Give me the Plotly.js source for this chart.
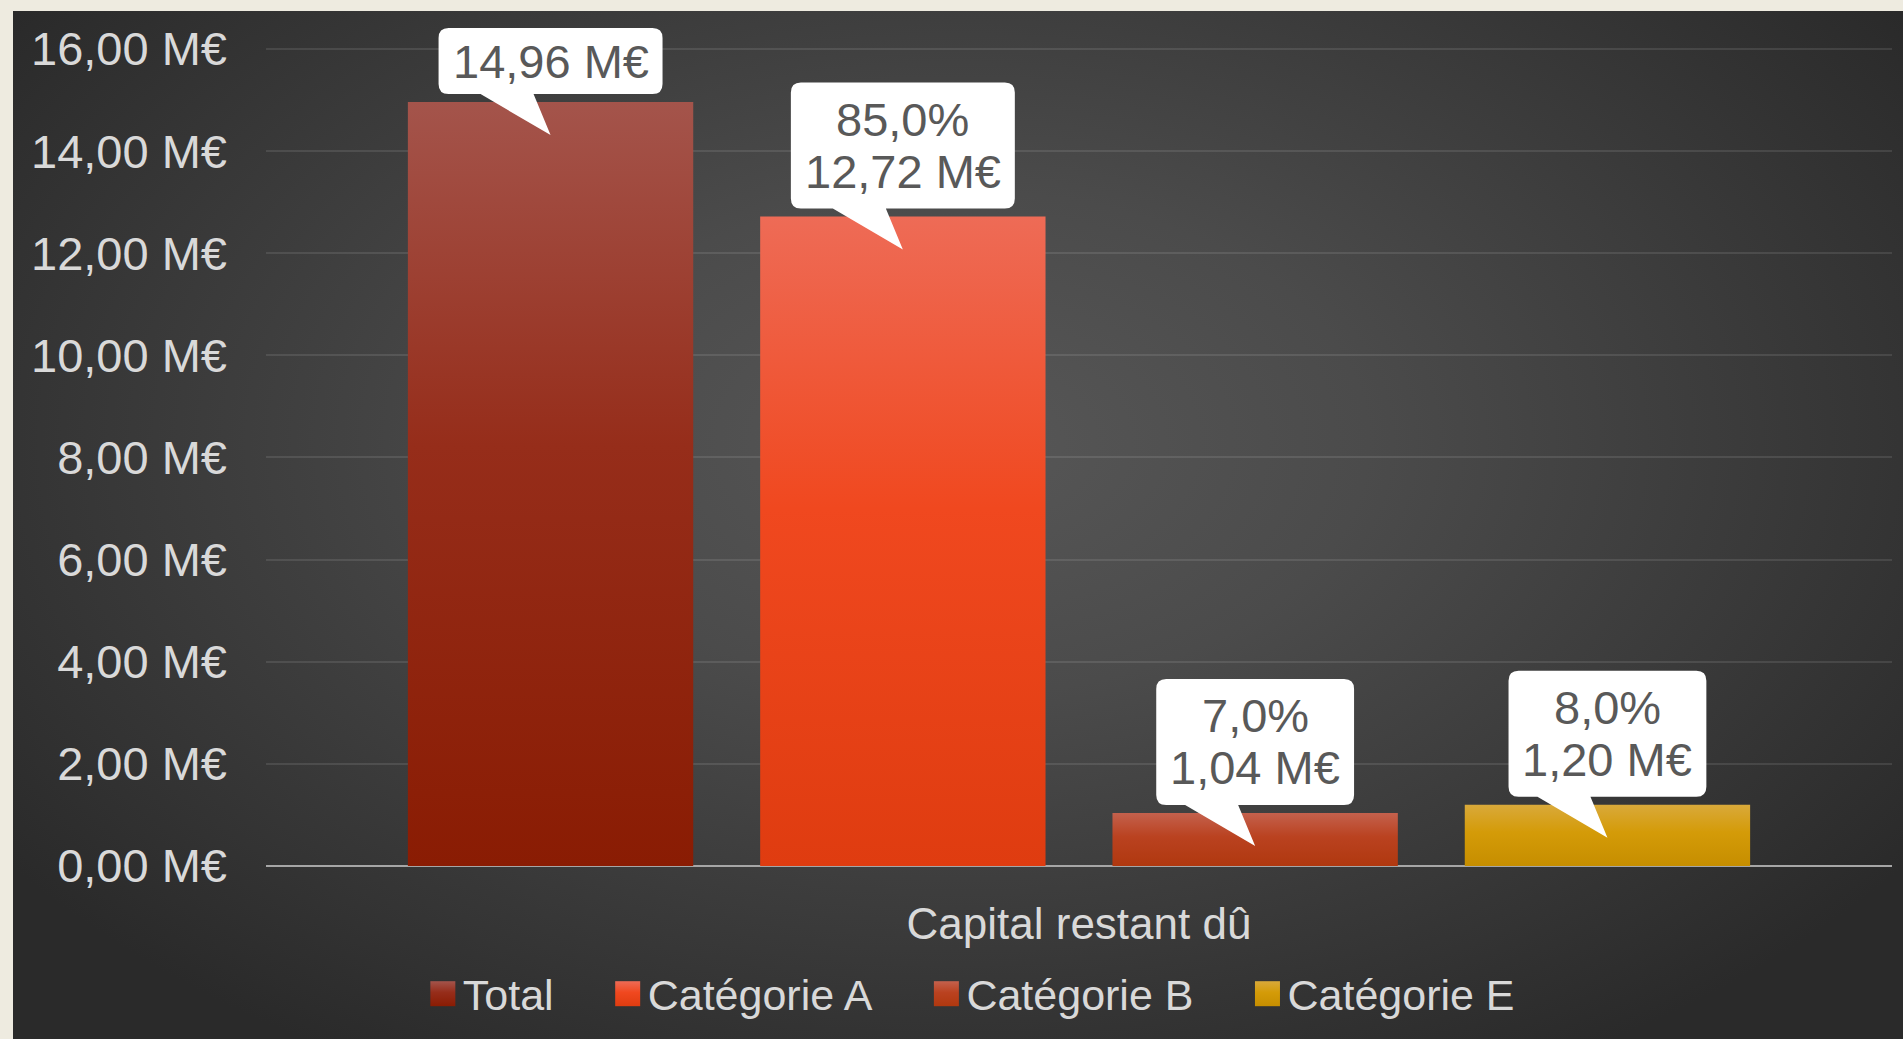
<!DOCTYPE html>
<html><head><meta charset="utf-8">
<script src="https://cdn.plot.ly/plotly-3.0.1.min.js"></script>
<style>
html,body{margin:0;padding:0;width:1903px;height:1039px;overflow:hidden;background:#EEEBE0;}
#panel{position:absolute;left:13px;top:11px;width:1890px;height:1028px;
 background:radial-gradient(ellipse 62% 70% at 50% 42%, #575757 0%, #4b4b4b 35%, #2a2a2a 100%);}
#chart{position:absolute;left:0;top:0;width:1903px;height:1039px;}
</style></head><body>
<div id="panel"></div><div id="chart"></div>
<script>
// ---- data ----
const categories = ['Total', 'Catégorie A', 'Catégorie B', 'Catégorie E'];
const values = [14.96, 12.72, 1.04, 1.20];       // M€
const shares = [null, 85.0, 7.0, 8.0];           // %
const yTicks = [0, 2, 4, 6, 8, 10, 12, 14, 16];
const xTitle = 'Capital restant dû';

// ---- styles ----
const gradTop = ['#A4544B', '#EE6B56', '#C4614D', '#D9A93A'];
const gradMid = ['#962D1A', '#F0481F', '#BA4220', '#D49B08'];
const gradBot = ['#8A1C03', '#DF3C10', '#B0380F', '#C68E00'];
const FONT = '"Liberation Sans", Arial, sans-serif';
const LBL = 47;

const fmtM = v => v.toFixed(2).replace('.', ',') + ' M€';
const fmtP = v => v.toFixed(1).replace('.', ',') + '%';

const traces = categories.map((c, i) => ({
  type: 'bar', name: c, x: [i], y: [values[i]], width: [0.81],
  marker: {color: gradMid[i], line: {width: 0}}, hoverinfo: 'skip'
}));

const ctx = document.createElement('canvas').getContext('2d');
ctx.font = LBL + 'px "Liberation Sans"';
const shapes = [], annotations = [];
categories.forEach((c, i) => {
  const lines = shares[i] == null ? [fmtM(values[i])] : [fmtP(shares[i]), fmtM(values[i])];
  const tw = Math.max(...lines.map(l => ctx.measureText(l).width));
  const n = lines.length;
  const w = tw + 28, h = 6 + 60 * n;
  const L = -w / 2, R = w / 2, B = 8, T = B + h, r = 10;
  const path = `M${L + r},${T} H${R - r} Q${R},${T} ${R},${T - r} V${B + r} Q${R},${B} ${R - r},${B} H-17 L0,-33 L-70,${B} H${L + r} Q${L},${B} ${L},${B + r} V${T - r} Q${L},${T} ${L + r},${T} Z`;
  shapes.push({type: 'path', xref: 'x', yref: 'y', xsizemode: 'pixel', ysizemode: 'pixel',
    xanchor: i, yanchor: values[i], path: path, fillcolor: '#FFFFFF', line: {width: 0}, layer: 'above'});
  const mid = B + h / 2, sp = 52;
  lines.forEach((ln, k) => {
    annotations.push({x: i, y: values[i], xref: 'x', yref: 'y', text: ln,
      showarrow: false, yanchor: 'middle', xanchor: 'center',
      yshift: mid + (sp / 2) * (n - 1) - sp * k, align: 'center',
      font: {family: FONT, size: LBL, color: '#595959'}});
  });
});

const layout = {
  width: 1903, height: 1039,
  paper_bgcolor: 'rgba(0,0,0,0)', plot_bgcolor: 'rgba(0,0,0,0)',
  margin: {l: 266, r: 11, t: 20, b: 171},
  separators: ', ',
  barmode: 'overlay',
  font: {family: FONT, color: '#D9D9D9'},
  xaxis: {range: [-0.8077, 3.8077], showticklabels: false, showgrid: false, zeroline: false,
    showline: false, ticks: '', fixedrange: true,
    title: {text: xTitle, font: {family: FONT, size: 44, color: '#D9D9D9'}, standoff: 42}},
  yaxis: {range: [0, 16.567], tickvals: yTicks, ticktext: yTicks.map(fmtM),
    tickfont: {family: FONT, size: LBL, color: '#D9D9D9'}, ticklabelstandoff: 38,
    showgrid: true, gridcolor: 'rgba(255,255,255,0.10)', gridwidth: 2,
    zeroline: true, zerolinecolor: '#A6A6A6', zerolinewidth: 2.5, showline: false, ticks: '',
    automargin: false, fixedrange: true},
  showlegend: true,
  legend: {orientation: 'h', x: 0.434, xanchor: 'center', y: -0.151, yanchor: 'middle',
    font: {family: FONT, size: 43, color: '#D9D9D9'}, bgcolor: 'rgba(0,0,0,0)', itemclick: false},
  shapes: shapes, annotations: annotations
};

Plotly.newPlot('chart', traces, layout, {displayModeBar: false, staticPlot: true}).then(gd => {
  const NS = 'http://www.w3.org/2000/svg';
  const svg = gd.querySelector('svg.main-svg');
  let defs = svg.querySelector('defs');
  if (!defs) { defs = document.createElementNS(NS, 'defs'); svg.insertBefore(defs, svg.firstChild); }
  categories.forEach((c, i) => {
    const g = document.createElementNS(NS, 'linearGradient');
    g.setAttribute('id', 'bargrad' + i);
    g.setAttribute('x1', '0'); g.setAttribute('y1', '0'); g.setAttribute('x2', '0'); g.setAttribute('y2', '1');
    [[0, gradTop[i]], [0.45, gradMid[i]], [1, gradBot[i]]].forEach(([o, col]) => {
      const s = document.createElementNS(NS, 'stop');
      s.setAttribute('offset', o); s.setAttribute('stop-color', col);
      g.appendChild(s);
    });
    defs.appendChild(g);
  });
  gd.querySelectorAll('.barlayer .trace').forEach((t, i) => {
    t.querySelectorAll('path').forEach(p => { p.style.fill = 'url(#bargrad' + i + ')'; });
  });
  const items = [...gd.querySelectorAll('.legend .traces')];
  items.forEach((t, i) => {
    t.querySelectorAll('.legendpoints path').forEach(p => {
      p.setAttribute('d', 'M12.5,12.5H-12.5V-12.5H12.5Z');
      p.style.fill = 'url(#bargrad' + i + ')';
      p.style.stroke = 'none';
    });
  });
  // spread legend entries like the reference (wider gaps between entries)
  try {
    const pos = items.map(t => {
      const m = /translate\(\s*([-\d.e]+)[\s,]*([-\d.e]+)?\s*\)/.exec(t.getAttribute('transform') || '');
      return m ? [parseFloat(m[1]), parseFloat(m[2] || 0)] : [0, 0];
    });
    const tws = items.map(t => t.querySelector('text.legendtext').getComputedTextLength());
    const last = items.length - 1;
    const oldC = (pos[0][0] + 7.5 + pos[last][0] + 40 + tws[last]) / 2;
    let x = 0; const nx = [];
    items.forEach((t, i) => { nx.push(x); x += 40 + tws[i] + 54; });
    const newC = (nx[0] + 7.5 + nx[last] + 40 + tws[last]) / 2;
    const shift = oldC - newC;
    items.forEach((t, i) => t.setAttribute('transform', `translate(${nx[i] + shift},${pos[i][1]})`));
    gd.querySelectorAll('.legend .scrollbox, .legend').forEach(el => el.removeAttribute('clip-path'));
  } catch (e) {}
});
</script>
</body></html>
